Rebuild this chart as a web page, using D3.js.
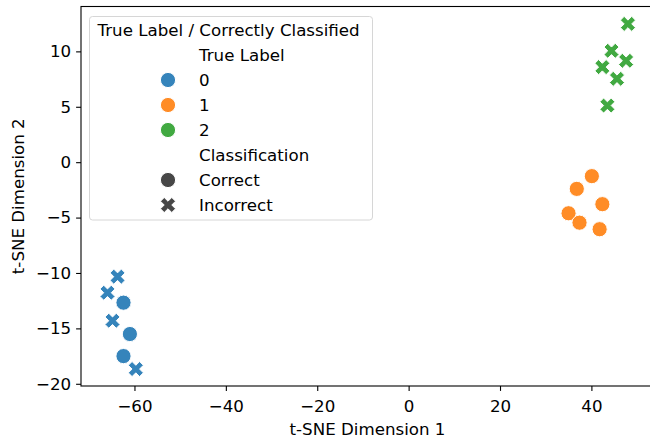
<!DOCTYPE html>
<html>
<head>
<meta charset="utf-8">
<script src="https://cdn.jsdelivr.net/npm/d3@7"></script>
<style>
  body { margin: 0; background: #fff; }
  svg { display: block; font-family: "DejaVu Sans", sans-serif; }
</style>
</head>
<body>
<svg id="chart" width="650" height="441"></svg>
<script>
// t-SNE coordinates
var tsneX = [-63.7, -65.9, -62.4, -64.8, -61.0, -62.4, -59.7,
             40.1, 36.8, 42.4, 35.0, 37.4, 41.8,
             48.0, 44.4, 47.6, 42.4, 45.6, 43.5]
var tsneY = [-10.33, -11.78, -12.68, -14.31, -15.51, -17.50, -18.67,
             -1.26, -2.41, -3.79, -4.61, -5.46, -6.05,
             12.48, 10.05, 9.15, 8.58, 7.52, 5.11]
var trueLabel = [0, 0, 0, 0, 0, 0, 0,
                 1, 1, 1, 1, 1, 1,
                 2, 2, 2, 2, 2, 2]
var correct = [false, false, true, false, true, true, false,
               true, true, true, true, true, true,
               false, false, false, false, false, false]

var labels = ['0', '1', '2']
var classes = ['Correct', 'Incorrect']
var xTicks = [-60, -40, -20, 0, 20, 40]
var yTicks = [-20, -15, -10, -5, 0, 5, 10]

var colors = ['#1f77b4', '#ff7f0e', '#2ca02c']

var points = tsneX.map(function(x, i) {
  return {x: x, y: tsneY[i], label: trueLabel[i], correct: correct[i]}
})

var plotLeft = 81, plotRight = 654, plotTop = 6.5, plotBottom = 386
var fontSize = 16.67

var svg = d3.select('#chart')

var x = d3.scaleLinear().domain([-71.7, 53.7]).range([plotLeft, plotRight])
var y = d3.scaleLinear().domain([-20.2, 14.05]).range([plotBottom, plotTop])

// filled "X" marker like matplotlib, size = full width in px
function xPath(size) {
  var a = size / 6, b = size / 2
  var pts = [[-a, -b], [-a, -a], [-b, -a], [-b, a], [-a, a], [-a, b],
             [a, b], [a, a], [b, a], [b, -a], [a, -a], [a, -b]]
  var c = Math.SQRT1_2
  pts = pts.map(function(p) { return [p[0] * c - p[1] * c, p[0] * c + p[1] * c] })
  return 'M' + pts.map(function(p) { return p[0].toFixed(2) + ',' + p[1].toFixed(2) }).join('L') + 'Z'
}

function drawMarker(g, isCorrect, color) {
  if (isCorrect) {
    g.append('circle').attr('r', 7.6)
      .attr('fill', color).attr('fill-opacity', 0.9)
      .attr('stroke', '#fff').attr('stroke-width', 1)
  } else {
    g.append('path').attr('d', xPath(16))
      .attr('fill', color).attr('fill-opacity', 0.9)
      .attr('stroke', '#fff').attr('stroke-width', 1)
  }
}

// points
svg.append('g').selectAll('g')
  .data(points)
  .enter().append('g')
  .attr('transform', function(d) { return 'translate(' + x(d.x) + ',' + y(d.y) + ')' })
  .each(function(d) {
    drawMarker(d3.select(this), d.correct, colors[d.label])
  })

// axes
var xAxis = svg.append('g')
  .attr('transform', 'translate(0,' + plotBottom + ')')
  .call(d3.axisBottom(x).tickValues(xTicks).tickSize(4.9).tickPadding(9).tickSizeOuter(0))
var yAxis = svg.append('g')
  .attr('transform', 'translate(' + plotLeft + ',0)')
  .call(d3.axisLeft(y).tickValues(yTicks).tickSize(4.9).tickPadding(4.9).tickSizeOuter(0))

;[xAxis, yAxis].forEach(function(ax) {
  ax.selectAll('text').attr('font-size', fontSize).attr('font-family', 'DejaVu Sans').attr('fill', '#000')
  ax.selectAll('line').attr('stroke', '#000').attr('stroke-width', 1.1)
  ax.select('.domain').remove()
})

// spines
svg.append('rect')
  .attr('x', plotLeft).attr('y', plotTop)
  .attr('width', plotRight - plotLeft).attr('height', plotBottom - plotTop)
  .attr('fill', 'none').attr('stroke', '#000').attr('stroke-width', 1.1)

svg.append('text')
  .attr('x', (plotLeft + plotRight) / 2).attr('y', 434.5)
  .attr('text-anchor', 'middle').attr('font-size', fontSize)
  .text('t-SNE Dimension 1')

svg.append('text')
  .attr('transform', 'translate(24,' + (plotTop + plotBottom) / 2 + ') rotate(-90)')
  .attr('text-anchor', 'middle').attr('font-size', fontSize)
  .text('t-SNE Dimension 2')

// legend
var legend = svg.append('g')
legend.append('rect')
  .attr('x', 89.5).attr('y', 16.5).attr('width', 283).attr('height', 203.5)
  .attr('rx', 3).attr('fill', '#fff').attr('fill-opacity', 0.8)
  .attr('stroke', '#d6d6d6').attr('stroke-width', 1)

legend.append('text')
  .attr('x', 97.5).attr('y', 36).attr('font-size', fontSize)
  .text('True Label / Correctly Classified')

var rows = [
  {text: 'True Label', marker: null},
  {text: labels[0], marker: {correct: true, color: colors[0]}},
  {text: labels[1], marker: {correct: true, color: colors[1]}},
  {text: labels[2], marker: {correct: true, color: colors[2]}},
  {text: 'Classification', marker: null},
  {text: classes[0], marker: {correct: true, color: '#333333'}},
  {text: classes[1], marker: {correct: false, color: '#333333'}}
]

rows.forEach(function(r, i) {
  var cy = 55 + i * 25
  legend.append('text')
    .attr('x', 199).attr('y', cy + 6).attr('font-size', fontSize)
    .text(r.text)
  if (r.marker) {
    var g = legend.append('g').attr('transform', 'translate(168,' + cy + ')')
    drawMarker(g, r.marker.correct, r.marker.color)
  }
})
</script>
</body>
</html>
